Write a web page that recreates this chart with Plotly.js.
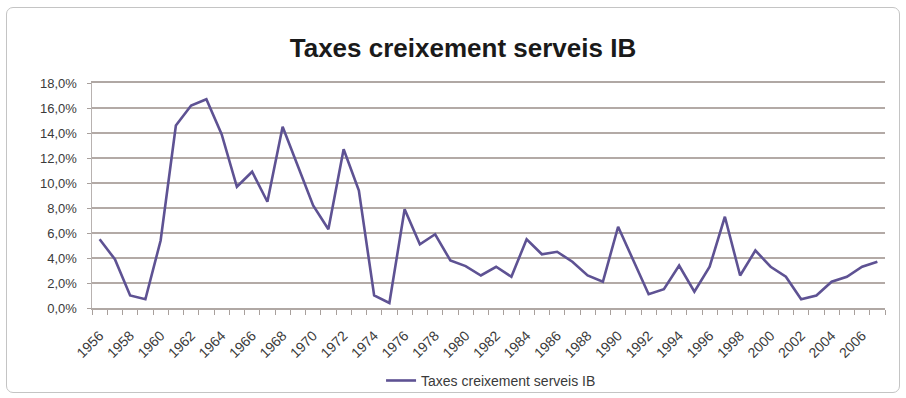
<!DOCTYPE html>
<html>
<head>
<meta charset="utf-8">
<script src="https://cdn.plot.ly/plotly-3.0.1.min.js"></script>
<style>
html,body{margin:0;padding:0;background:#fff;}
#wrap{position:relative;width:906px;height:398px;}
#chart{width:906px;height:398px;}
#frame{position:absolute;left:6px;top:7px;width:892px;height:384px;border:1.5px solid #c4c4c4;border-radius:7px;pointer-events:none;}
</style>
</head>
<body>
<div id="wrap"><div id="chart"></div><div id="frame"></div></div>
<script>
const years = [1956,1957,1958,1959,1960,1961,1962,1963,1964,1965,1966,1967,1968,1969,1970,1971,1972,1973,1974,1975,1976,1977,1978,1979,1980,1981,1982,1983,1984,1985,1986,1987,1988,1989,1990,1991,1992,1993,1994,1995,1996,1997,1998,1999,2000,2001,2002,2003,2004,2005,2006,2007];
const rates = [5.5,3.9,1.0,0.7,5.4,14.6,16.2,16.7,13.9,9.7,10.9,8.5,14.5,11.4,8.2,6.3,12.7,9.4,1.0,0.4,7.9,5.1,5.9,3.8,3.35,2.6,3.3,2.5,5.5,4.3,4.5,3.7,2.6,2.1,6.5,3.8,1.1,1.5,3.4,1.3,3.3,7.3,2.6,4.6,3.3,2.5,0.7,1.0,2.1,2.5,3.3,3.7];
const tickYears = [1956,1958,1960,1962,1964,1966,1968,1970,1972,1974,1976,1978,1980,1982,1984,1986,1988,1990,1992,1994,1996,1998,2000,2002,2004,2006];
const tickLabels = tickYears.map(String);
const seriesName = 'Taxes creixement serveis IB';
const chartTitle = 'Taxes creixement serveis IB';

const FONT = 'Liberation Sans, Arial, sans-serif';
const trace = {
  x: years, y: rates, type: 'scatter', mode: 'lines', name: seriesName,
  line: {color: '#5e5293', width: 2.6}
};

const layout = {
  width: 906, height: 398,
  paper_bgcolor: '#ffffff', plot_bgcolor: '#ffffff',
  separators: ',.',
  margin: {l: 92, r: 21, t: 83, b: 90},
  title: {text: '<b>' + chartTitle + '</b>', x: 0.511, xref: 'container', y: 0.88, yref: 'container', yanchor: 'middle', xanchor: 'center',
          font: {family: FONT, size: 26, color: '#1a1a1a'}},
  xaxis: {
    automargin: false,
    range: [1955.5, 2007.5], tickmode: 'array', tickvals: tickYears, ticktext: tickLabels,
    tickangle: -45, ticks: '', showgrid: false, zeroline: false,
    showline: true, mirror: true, linecolor: '#b0a8a4', linewidth: 2,
    ticklabelstandoff: 12,
    tickfont: {family: FONT, size: 14, color: '#3a3a3a'},
    minor: {ticks: 'outside', tickmode: 'linear', tick0: 1955.5, dtick: 1, ticklen: 5, tickcolor: '#a8a09c', tickwidth: 1, showgrid: false}
  },
  yaxis: {
    automargin: false,
    range: [0, 18], dtick: 2, tick0: 0, tickformat: '.1f', ticksuffix: '%',
    showgrid: true, gridcolor: '#b3aaa6', gridwidth: 2, zeroline: false,
    showline: true, linecolor: '#b8b2b0', linewidth: 1.5,
    ticks: 'outside', ticklen: 4, tickcolor: '#a8a09c',
    ticklabelstandoff: 7,
    tickfont: {family: FONT, size: 13, color: '#3a3a3a'}
  },
  showlegend: true,
  legend: {orientation: 'h', x: 0.542, xref: 'container', xanchor: 'center', y: 0.043, yref: 'container', yanchor: 'middle',
           font: {family: FONT, size: 14, color: '#3a3a3a'}, bgcolor: 'rgba(0,0,0,0)'}
};

Plotly.newPlot('chart', [trace], layout, {displayModeBar: false, staticPlot: true});
</script>
</body>
</html>
